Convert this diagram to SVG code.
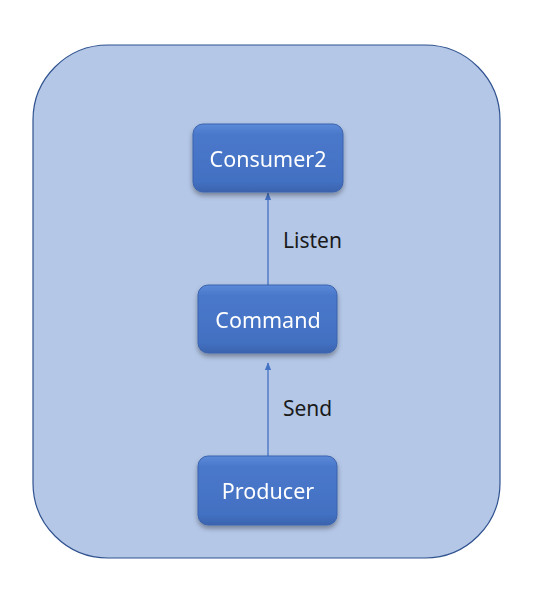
<svg xmlns="http://www.w3.org/2000/svg" width="541" height="600" viewBox="0 0 541 600">
<style>
.node{fill:url(#g);stroke:#3a63ad;stroke-width:1}
.lbl{font-family:"Noto Sans","Liberation Sans",sans-serif;font-size:21.5px;fill:#ffffff;text-anchor:middle}
.el{font-family:"Noto Sans","Liberation Sans",sans-serif;font-size:21px;fill:#1a1a1a}
.c{stroke:#4472c4;stroke-width:1.3;fill:none;marker-end:url(#a)}
</style>
<defs>
<linearGradient id="g" x1="0" y1="0" x2="0" y2="1">
<stop offset="0" stop-color="#5b8ad8"/>
<stop offset="0.15" stop-color="#4a78cb"/>
<stop offset="0.85" stop-color="#4370c2"/>
<stop offset="1" stop-color="#3a63ad"/>
</linearGradient>
<filter id="s" x="-20%" y="-20%" width="140%" height="150%">
<feDropShadow dx="0" dy="3" stdDeviation="2.5" flood-color="#000" flood-opacity="0.35"/>
</filter>
<marker id="a" viewBox="0 0 10 10" refX="9" refY="5" markerWidth="6" markerHeight="6" orient="auto">
<path d="M0,1 L10,5 L0,9 z" fill="#4472c4"/>
</marker>
</defs>
<rect x="33" y="45" width="467" height="513" rx="75" ry="75" fill="#b4c7e7" stroke="#2f528f" stroke-width="1.2"/>
<g id="connectors">
<line class="c" x1="268" y1="285" x2="268" y2="193"/>
<line class="c" x1="268" y1="456" x2="268" y2="363"/>
<text class="el" x="283" y="248">Listen</text>
<text class="el" x="283" y="416">Send</text>
</g>
<g id="consumer2" filter="url(#s)">
<rect class="node" x="193" y="124" width="150" height="68" rx="10"/>
<text class="lbl" x="268" y="167">Consumer2</text>
</g>
<g id="command" filter="url(#s)">
<rect class="node" x="198" y="285" width="139" height="68" rx="10"/>
<text class="lbl" x="268" y="328">Command</text>
</g>
<g id="producer" filter="url(#s)">
<rect class="node" x="198" y="456" width="139" height="69" rx="10"/>
<text class="lbl" x="268" y="499">Producer</text>
</g>
</svg>
